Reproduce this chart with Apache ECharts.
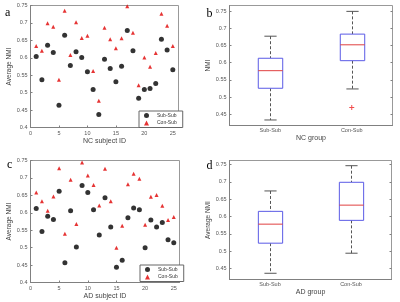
<!DOCTYPE html>
<html>
<head>
<meta charset="utf-8">
<script src="https://cdn.jsdelivr.net/npm/echarts@6/dist/echarts.min.js"></script>
<style>
    html, body { margin: 0; padding: 0; background: #fff; }
    #chart { width: 400px; height: 302px; }
</style>
</head>
<body>
<div id="chart"></div>
<script>
// 数据
var subjectIds = [1, 2, 3, 4, 5, 6, 7, 8, 9, 10, 11, 12, 13, 14, 15, 16, 17, 18, 19, 20, 21, 22, 23, 24, 25];
var ncSubSub = [0.604, 0.537, 0.636, 0.615, 0.464, 0.665, 0.578, 0.617, 0.601, 0.560, 0.509, 0.437, 0.596, 0.569, 0.531, 0.576, 0.678, 0.620, 0.484, 0.509, 0.512, 0.526, 0.653, 0.622, 0.566];
var ncConSub = [0.634, 0.620, 0.699, 0.689, 0.537, 0.735, 0.608, 0.702, 0.657, 0.663, 0.562, 0.477, 0.686, 0.653, 0.627, 0.656, 0.748, 0.672, 0.521, 0.601, 0.574, 0.614, 0.726, 0.692, 0.634];
var adSubSub = [0.612, 0.546, 0.590, 0.581, 0.662, 0.457, 0.606, 0.502, 0.678, 0.658, 0.609, 0.536, 0.643, 0.559, 0.444, 0.464, 0.586, 0.614, 0.609, 0.500, 0.579, 0.559, 0.572, 0.523, 0.514];
var adConSub = [0.658, 0.633, 0.606, 0.647, 0.728, 0.540, 0.695, 0.568, 0.744, 0.707, 0.680, 0.621, 0.726, 0.633, 0.500, 0.563, 0.682, 0.712, 0.698, 0.566, 0.646, 0.651, 0.620, 0.579, 0.588];

var groups = ['Sub-Sub', 'Con-Sub'];
// [low, q1, median, q3, high]
var ncBox = [[0.434, 0.526, 0.577, 0.613, 0.677], [0.524, 0.606, 0.652, 0.683, 0.749]];
var ncOutliers = [[1, 0.470]];
var adBox = [[0.436, 0.523, 0.578, 0.615, 0.674], [0.494, 0.589, 0.633, 0.699, 0.747]];
var boxTicks = [0.45, 0.5, 0.55, 0.6, 0.65, 0.7, 0.75];

var font = 'Liberation Sans';
var axisGray = '#808080';
var labelGray = '#555';

function pairs(ids, vals) {
    return ids.map(function(id, i) { return [id, vals[i]]; });
}
function boxRows(stats) {
    return stats.map(function(s, i) { return [i].concat(s); });
}

function renderBox(params, api) {
    var idx = api.value(0);
    var lo = api.coord([idx, api.value(1)]);
    var q1 = api.coord([idx, api.value(2)]);
    var md = api.coord([idx, api.value(3)]);
    var q3 = api.coord([idx, api.value(4)]);
    var hi = api.coord([idx, api.value(5)]);
    var bw = api.size([1, 0])[0] * 0.3;
    var cw = bw * 0.5;
    var cx = Math.round(lo[0]) + 0.5;
    var dash = { stroke: '#555', lineWidth: 1, lineDash: [3, 2] };
    var solid = { stroke: '#555', lineWidth: 1 };
    return {
        type: 'group',
        children: [
            { type: 'line', shape: { x1: cx, y1: hi[1], x2: cx, y2: q3[1] }, style: dash },
            { type: 'line', shape: { x1: cx, y1: q1[1], x2: cx, y2: lo[1] }, style: dash },
            { type: 'line', shape: { x1: cx - cw / 2, y1: hi[1], x2: cx + cw / 2, y2: hi[1] }, style: solid },
            { type: 'line', shape: { x1: cx - cw / 2, y1: lo[1], x2: cx + cw / 2, y2: lo[1] }, style: solid },
            { type: 'rect', shape: { x: cx - bw / 2, y: q3[1], width: bw, height: q1[1] - q3[1] }, style: { fill: '#fff', stroke: '#5a5ae6', lineWidth: 1 } },
            { type: 'line', shape: { x1: cx - bw / 2, y1: md[1], x2: cx + bw / 2, y2: md[1] }, style: { stroke: '#e04040', lineWidth: 1 } }
        ]
    };
}

function scatterX(gi, name) {
    return {
        gridIndex: gi, type: 'value', min: 0, max: 26, interval: 5,
        name: name, nameLocation: 'middle', nameGap: 8,
        nameTextStyle: { fontFamily: font, fontSize: 7, color: '#444' },
        axisLine: { lineStyle: { color: axisGray } },
        axisTick: { inside: true, length: 2, lineStyle: { color: axisGray } },
        axisLabel: { margin: 3, fontFamily: font, fontSize: 5.5, color: labelGray },
        splitLine: { show: false }
    };
}
function scatterY(gi) {
    return {
        gridIndex: gi, type: 'value', min: 0.4, max: 0.75, interval: 0.05,
        name: 'Average NMI', nameLocation: 'middle', nameGap: 15,
        nameTextStyle: { fontFamily: font, fontSize: 6.5, color: '#444' },
        axisLine: { show: true, lineStyle: { color: axisGray } },
        axisTick: { show: true, inside: true, length: 2, lineStyle: { color: axisGray } },
        axisLabel: { margin: 3, fontFamily: font, fontSize: 5.5, color: labelGray },
        splitLine: { show: false }
    };
}
function boxX(gi, name) {
    return {
        gridIndex: gi, type: 'category', data: groups, boundaryGap: true,
        name: name, nameLocation: 'middle', nameGap: 9,
        nameTextStyle: { fontFamily: font, fontSize: 7, color: '#444' },
        axisLine: { lineStyle: { color: axisGray } },
        axisTick: { show: false },
        axisLabel: { margin: 2, fontFamily: font, fontSize: 5.5, color: labelGray },
        splitLine: { show: false }
    };
}
function boxY(gi, name, max, right) {
    return {
        gridIndex: gi, type: 'value', min: 0.418, max: max, position: right ? 'right' : 'left',
        name: right ? '' : name, nameLocation: 'middle', nameGap: 15,
        nameTextStyle: { fontFamily: font, fontSize: 6.5, color: '#444' },
        axisLine: { show: !right, lineStyle: { color: axisGray } },
        axisTick: { show: true, inside: true, length: 2, customValues: boxTicks, lineStyle: { color: axisGray } },
        axisLabel: { show: !right, margin: 3, fontFamily: font, fontSize: 5.5, color: labelGray, customValues: boxTicks },
        splitLine: { show: false }
    };
}
function legendAt(left, top) {
    return {
        left: left, top: top, orient: 'vertical',
        data: [{ name: 'Sub-Sub', icon: 'circle' }, { name: 'Con-Sub', icon: 'triangle' }],
        backgroundColor: '#fff', borderColor: '#666', borderWidth: 1, borderRadius: 0,
        padding: [1.5, 6, 1.5, 5], itemGap: 1.5, itemWidth: 5, itemHeight: 5,
        textStyle: { fontFamily: font, fontSize: 5, color: '#333', lineHeight: 6, padding: [0, 0, 0, 3] },
        selectedMode: false
    };
}
function letter(t, left, top) {
    return { text: t, left: left, top: top, padding: 0,
        textStyle: { fontFamily: 'Liberation Serif', fontSize: 12, fontWeight: 'normal', color: '#000' } };
}

var gridStyle = { show: true, borderColor: '#999', borderWidth: 1, backgroundColor: 'transparent' };

var myChart = echarts.init(document.getElementById('chart'));
var option = {
    animation: false,
    backgroundColor: '#fff',
    title: [letter('a', 5, 7), letter('b', 206.5, 8), letter('c', 7, 159), letter('d', 206.5, 160)],
    legend: [legendAt(139, 111), legendAt(140, 265)],
    grid: [
        Object.assign({ left: 30.5, top: 5.5, width: 148, height: 122 }, gridStyle),
        Object.assign({ left: 229.5, top: 5.5, width: 163, height: 120 }, gridStyle),
        Object.assign({ left: 30.5, top: 160.5, width: 149, height: 122 }, gridStyle),
        Object.assign({ left: 229.5, top: 160.5, width: 162, height: 119 }, gridStyle)
    ],
    xAxis: [
        scatterX(0, 'NC subject ID'),
        boxX(1, 'NC group'),
        scatterX(2, 'AD subject ID'),
        boxX(3, 'AD group')
    ],
    yAxis: [
        scatterY(0),
        boxY(1, 'NMI', 0.766, false),
        scatterY(2),
        boxY(3, 'Average NMI', 0.762, false),
        boxY(1, '', 0.766, true),
        boxY(3, '', 0.762, true)
    ],
    series: [
        { name: 'Sub-Sub', type: 'scatter', xAxisIndex: 0, yAxisIndex: 0, symbol: 'circle', symbolSize: 5,
          itemStyle: { color: '#000' }, data: pairs(subjectIds, ncSubSub) },
        { name: 'Con-Sub', type: 'scatter', xAxisIndex: 0, yAxisIndex: 0, symbol: 'triangle', symbolSize: 4,
          itemStyle: { color: '#e00000' }, data: pairs(subjectIds, ncConSub) },
        { name: 'Sub-Sub', type: 'scatter', xAxisIndex: 2, yAxisIndex: 2, symbol: 'circle', symbolSize: 5,
          itemStyle: { color: '#000' }, data: pairs(subjectIds, adSubSub) },
        { name: 'Con-Sub', type: 'scatter', xAxisIndex: 2, yAxisIndex: 2, symbol: 'triangle', symbolSize: 4,
          itemStyle: { color: '#e00000' }, data: pairs(subjectIds, adConSub) },
        { type: 'custom', xAxisIndex: 1, yAxisIndex: 1, renderItem: renderBox,
          encode: { x: 0, y: [1, 2, 3, 4, 5] }, data: boxRows(ncBox) },
        { type: 'scatter', xAxisIndex: 1, yAxisIndex: 1, symbol: 'path://M4,0H6V4H10V6H6V10H4V6H0V4H4Z', symbolSize: 5,
          itemStyle: { color: '#ee2020' }, data: ncOutliers },
        { type: 'custom', xAxisIndex: 3, yAxisIndex: 3, renderItem: renderBox,
          encode: { x: 0, y: [1, 2, 3, 4, 5] }, data: boxRows(adBox) }
    ]
};
myChart.setOption(option);
</script>
</body>
</html>
